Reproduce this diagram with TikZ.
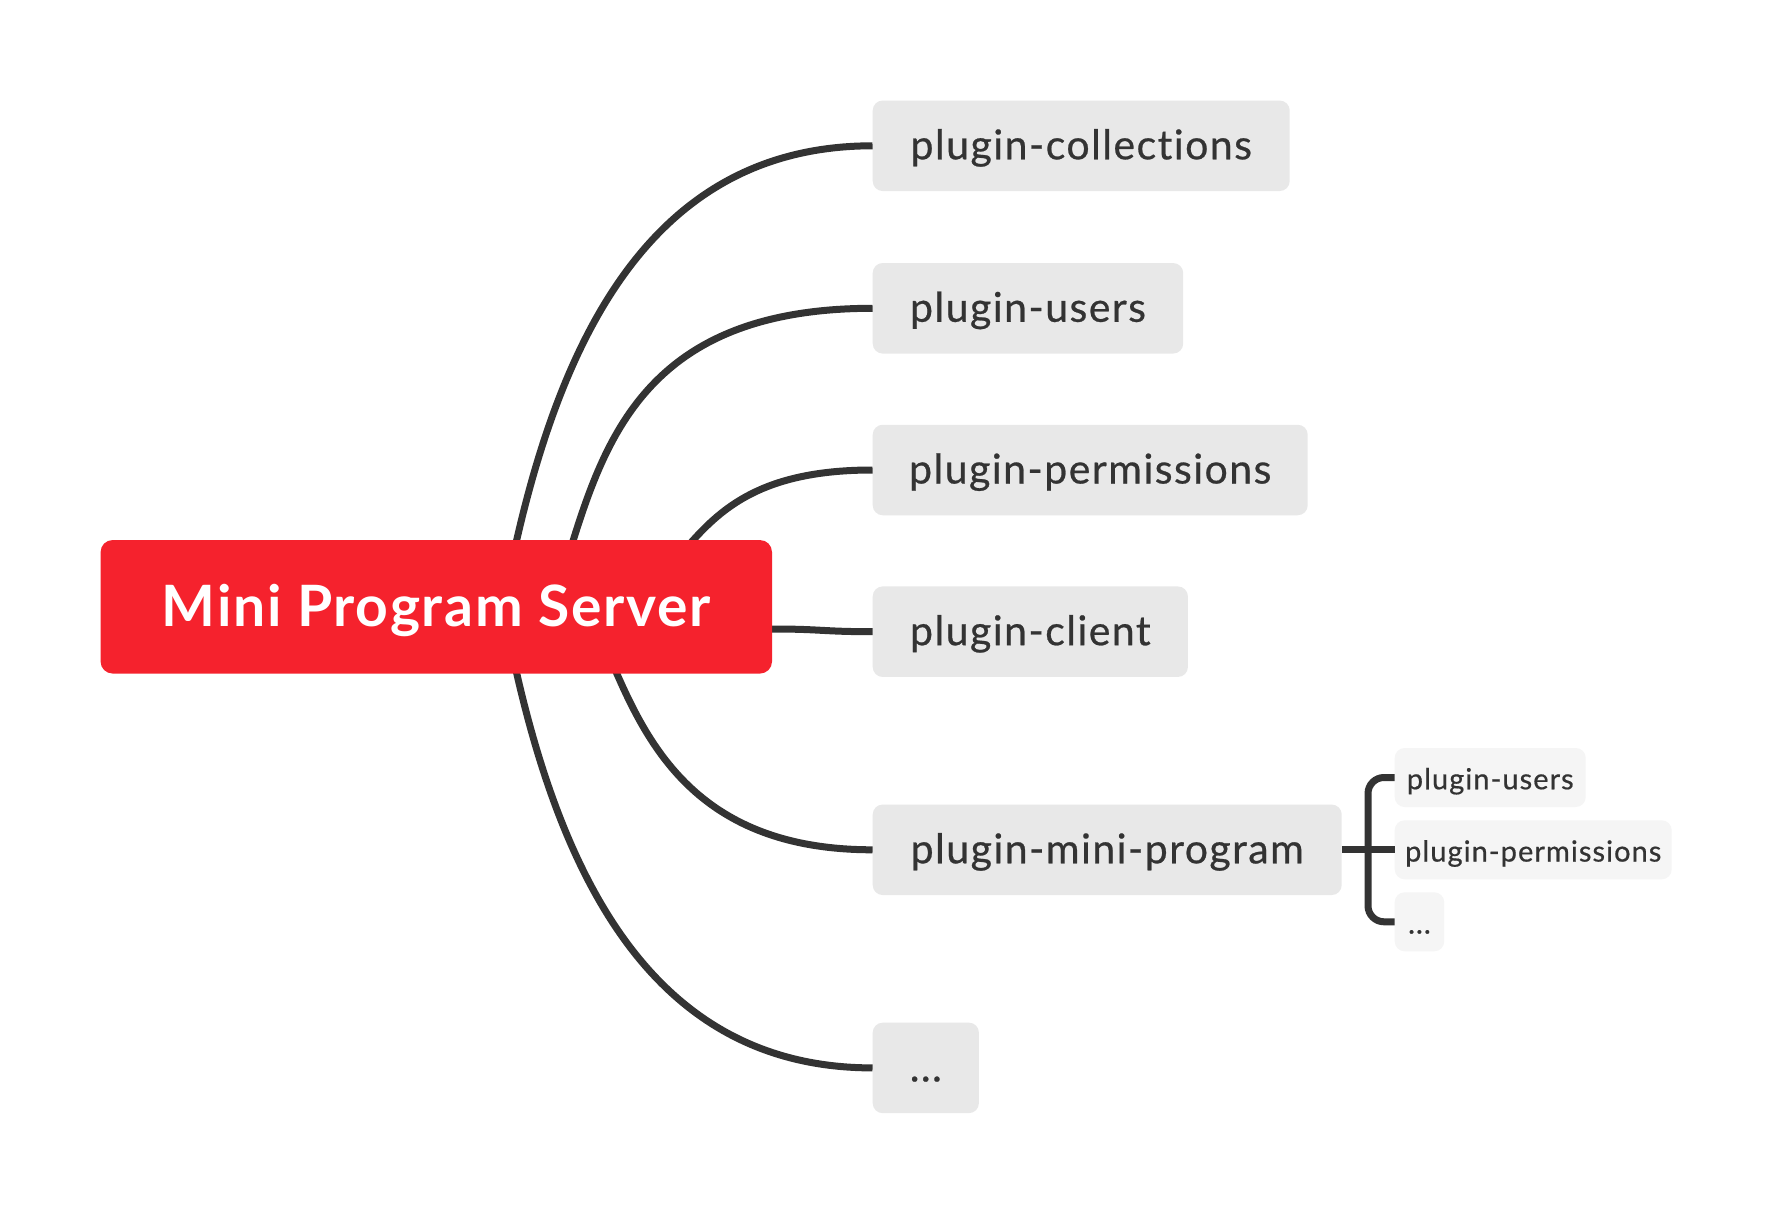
\documentclass[tikz,border=0pt]{standalone}
\usepackage{fontspec}
\setmainfont{Lato}[Ligatures=NoCommon]
\newfontfamily\childfont{Lato}[LetterSpace=3.6, FakeBold=0.6, Ligatures=NoCommon]
\newfontfamily\rootfont{Lato}[LetterSpace=3.0, Ligatures=NoCommon]
\definecolor{rootred}{HTML}{F5222D}
\definecolor{childgray}{HTML}{E8E8E8}
\definecolor{subgray}{HTML}{F5F5F5}
\definecolor{ink}{HTML}{333333}
\begin{document}
\begin{tikzpicture}[x=1pt,y=-1pt,
  rootbox/.style={fill=rootred, rounded corners=12pt, text=white, inner sep=0pt,
    minimum width=671.4pt, minimum height=133.5pt, text height=38.4pt, text depth=0pt,
    font=\rootfont\fontsize{57}{60}\selectfont\bfseries},
  childbox/.style={fill=childgray, rounded corners=10pt, text=ink, inner sep=0pt, anchor=west,
    minimum height=90.5pt, text height=27pt, text depth=0pt,
    font=\childfont\fontsize{41}{48}\selectfont},
  subbox/.style={fill=subgray, rounded corners=10pt, text=ink, inner sep=0pt, anchor=west,
    minimum height=59pt, text height=23.5pt, text depth=0pt,
    font=\childfont\fontsize{29}{34}\selectfont},
  conn/.style={draw=ink, line width=7pt},
]
\useasboundingbox[fill=white] (0,0) rectangle (1772,1214);

% children
\node[childbox, minimum width=417pt]   (col)    at (872.5,145.8)  {plugin-collections};
\node[childbox, minimum width=310.5pt] (users)  at (872.5,308.3)  {plugin-users};
\node[childbox, minimum width=435pt]   (perm)   at (872.5,470)    {plugin-permissions};
\node[childbox, minimum width=315.2pt] (client) at (872.5,631.7)  {plugin-client};
\node[childbox, minimum width=469pt]   (mini)   at (872.5,849.8)  {plugin-mini-program};
\node[childbox, minimum width=106.2pt] (dots)   at (872.5,1067.9) {...};

% grandchildren
\node[subbox, minimum width=191pt] (su) at (1394.5,777.5) {plugin-users};
\node[subbox, minimum width=277pt] (sp) at (1394.5,849.8) {plugin-permissions};
\node[subbox, minimum width=49.5pt] (sd) at (1394.5,921.8) {...};

% connector start points (hidden under the root box)
\coordinate (c1) at (510,569);
\coordinate (c2) at (564.3,568.6);
\coordinate (c3) at (673.2,562.3);
\coordinate (c4) at (750,629);
\coordinate (c5) at (604.7,645.8);
\coordinate (c6) at (510,644.3);
\coordinate (bx) at (1368,849.8);

\draw[conn] (c1) -- (516.7,540) .. controls (566,325.5) and (659,145.8) .. (col.west);
\draw[conn] (c2) -- (573.3,540) .. controls (609.2,425.5) and (658,308.3) .. (users.west);
\draw[conn] (c3) -- (693.3,540) .. controls (726.8,502.9) and (769.7,470) .. (perm.west);
\draw[conn] (c4) -- (771.7,629) .. controls (822,629) and (822,631.7) .. (client.west);
\draw[conn] (c5) -- (616.7,673.3) .. controls (652.7,755.7) and (706.7,849.8) .. (mini.west);
\draw[conn] (c6) -- (516.7,673.3) .. controls (566,887.8) and (659,1067.9) .. (dots.west);

\draw[conn] (mini.east) -- (sp.west);
\draw[conn, rounded corners=16pt] (su.west) -- (su.west -| bx) -- (sd.west -| bx) -- (sd.west);

% root
\node[rootbox] (root) at (436.3,606.8) {Mini Program Server};
\end{tikzpicture}
\end{document}
